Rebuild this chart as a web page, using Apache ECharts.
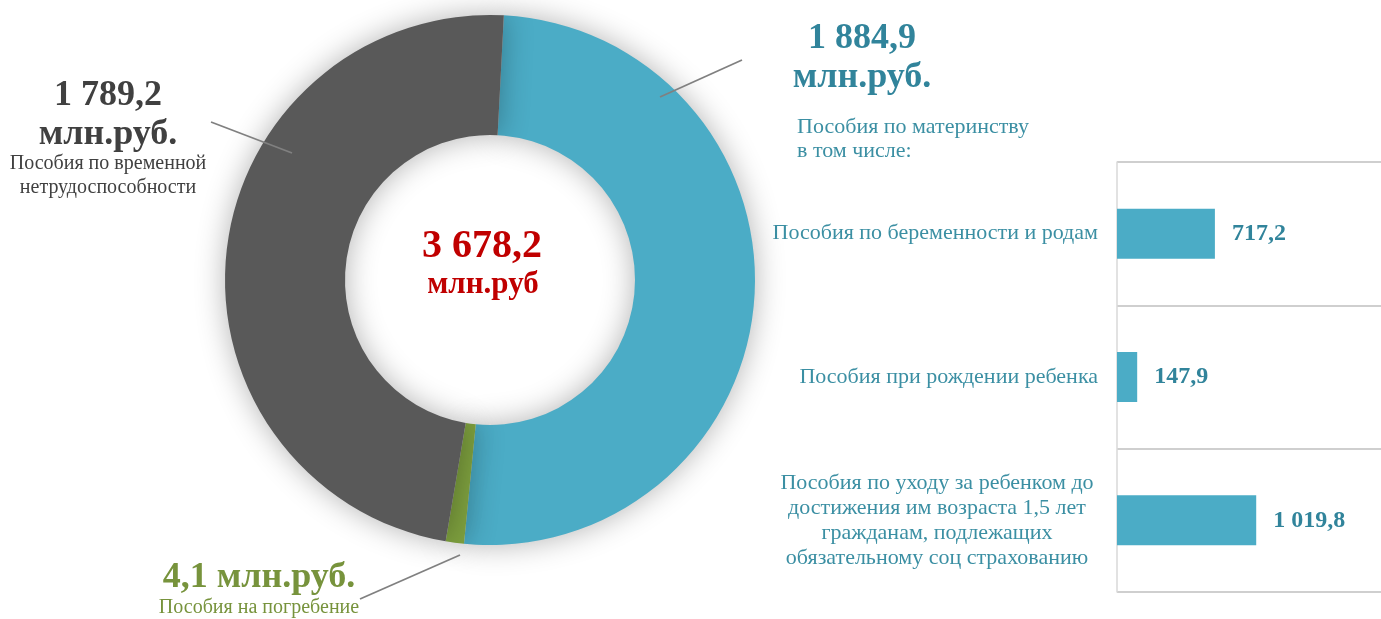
<!DOCTYPE html>
<html>
<head>
<meta charset="utf-8">
<script src="https://cdn.jsdelivr.net/npm/echarts@6/dist/echarts.min.js"></script>
<style>
  html, body { margin: 0; padding: 0; background: #fff; }
  #chart { width: 1381px; height: 619px; }
</style>
</head>
<body>
<div id="chart"></div>
<script>
// pie: structure of benefits
const pieNames = ['Пособия по материнству', 'Пособия на погребение', 'Пособия по временной нетрудоспособности']
const pieValues = [1884.9, 4.1, 1789.2]
const pieNotes = ['', 'Пособия на погребение', 'Пособия по временной\nнетрудоспособности']
const totalValue = 3678.2
const unitText = 'млн.руб.'
const maternityNote = ['Пособия по материнству', 'в том числе:']

// bars: maternity breakdown
const barCategories = [
  'Пособия по беременности и родам',
  'Пособия при рождении ребенка',
  'Пособия по уходу за ребенком до\nдостижения им возраста 1,5 лет\nгражданам, подлежащих\nобязательному соц страхованию'
]
const barValues = [717.2, 147.9, 1019.8]

const FONT = '"Liberation Serif", "Times New Roman", serif'
const pieColors = ['#4bacc6', '#7d9f3e', '#595959']
const labelColors = ['#31849b', '#77933c', '#404040']
const teal = '#3b8fa3'

function fmt(v) {
  const parts = v.toFixed(1).split('.')
  return parts[0].replace(/\B(?=(\d{3})+(?!\d))/g, ' ') + ',' + parts[1]
}

// label placement and leader lines (label end -> into the slice)
const pieLabelPos = [
  { x: 862, y: 17, line: [[742, 60], [660, 97]] },
  { x: 259, y: 560, line: [[360, 599], [460, 555]] },
  { x: 108, y: 74, line: [[211, 122], [292, 153]] }
]

const leaderLines = pieLabelPos.map(p => ({
  type: 'polyline',
  z: 100,
  silent: true,
  shape: { points: p.line },
  style: { stroke: '#808080', lineWidth: 1.8, fill: null }
}))

const chart = echarts.init(document.getElementById('chart'))

chart.setOption({
  animation: false,
  backgroundColor: '#fff',
  textStyle: { fontFamily: FONT },
  grid: {
    left: 1117,
    right: 0,
    top: 162,
    bottom: 27
  },
  xAxis: {
    type: 'value',
    min: 0,
    max: 1934,
    show: false
  },
  yAxis: {
    type: 'category',
    inverse: true,
    data: barCategories,
    axisTick: { show: false },
    axisLine: { show: true, lineStyle: { color: '#d9d9d9', width: 1.5 } },
    splitLine: { show: true, lineStyle: { color: '#bfbfbf', width: 1.5 } },
    axisLabel: {
      margin: 19,
      fontSize: 22,
      color: teal,
      fontFamily: FONT,
      formatter: function (val) {
        if (val.indexOf('\n') < 0) return val
        return val.split('\n').map(s => '{c|' + s + '}').join('\n')
      },
      rich: {
        c: { width: 322, align: 'center', fontSize: 22, lineHeight: 25, color: teal, fontFamily: FONT }
      }
    }
  },
  graphic: [
    {
      type: 'text', x: 482, y: 247,
      style: { text: fmt(totalValue), textAlign: 'center', textVerticalAlign: 'middle', fontSize: 40, fontWeight: 'bold', fill: '#c00000', fontFamily: FONT }
    },
    {
      type: 'text', x: 483, y: 285,
      style: { text: 'млн.руб', textAlign: 'center', textVerticalAlign: 'middle', fontSize: 31, fontWeight: 'bold', fill: '#c00000', fontFamily: FONT }
    },
    {
      type: 'text', x: 797, y: 127,
      style: { text: maternityNote[0], textAlign: 'left', textVerticalAlign: 'middle', fontSize: 22, fill: teal, fontFamily: FONT }
    },
    {
      type: 'text', x: 797, y: 151,
      style: { text: maternityNote[1], textAlign: 'left', textVerticalAlign: 'middle', fontSize: 22, fill: teal, fontFamily: FONT }
    }
  ].concat(leaderLines),
  series: [
    {
      type: 'pie',
      center: [490, 280],
      radius: [145, 265],
      startAngle: 87,
      minAngle: 4,
      avoidLabelOverlap: false,
      itemStyle: {
        borderWidth: 0,
        shadowBlur: 30,
        shadowColor: 'rgba(0,0,0,0.3)'
      },
      label: {
        show: true,
        position: 'outside',
        fontFamily: FONT,
        formatter: function (p) {
          const v = fmt(p.value)
          if (p.dataIndex === 1) {
            return '{g|' + v + ' ' + unitText + '}\n{d|' + pieNotes[1] + '}'
          }
          let s = '{v|' + v + '}\n{u|' + unitText + '}'
          if (pieNotes[p.dataIndex]) {
            s += '\n' + pieNotes[p.dataIndex].split('\n').map(t => '{d|' + t + '}').join('\n')
          }
          return s
        },
        rich: {
          v: { fontSize: 36, fontWeight: 'bold', lineHeight: 44, fontFamily: FONT },
          u: { fontSize: 36, fontWeight: 'bold', lineHeight: 34, fontFamily: FONT },
          g: { fontSize: 36, fontWeight: 'bold', lineHeight: 36, fontFamily: FONT },
          d: { fontSize: 20, lineHeight: 24, fontFamily: FONT }
        }
      },
      labelLine: { show: false },
      labelLayout: function (p) {
        const pos = pieLabelPos[p.dataIndex]
        return { x: pos.x, y: pos.y, align: 'center', verticalAlign: 'top' }
      },
      data: pieNames.map((n, i) => ({
        name: n,
        value: pieValues[i],
        itemStyle: { color: pieColors[i] },
        label: { color: labelColors[i] }
      }))
    },
    {
      type: 'bar',
      barWidth: 50,
      itemStyle: { color: '#4bacc6' },
      label: {
        show: true,
        position: 'right',
        distance: 17,
        fontSize: 24,
        fontWeight: 'bold',
        color: '#31849b',
        fontFamily: FONT,
        formatter: p => fmt(p.value)
      },
      data: barValues
    }
  ]
})
</script>
</body>
</html>
